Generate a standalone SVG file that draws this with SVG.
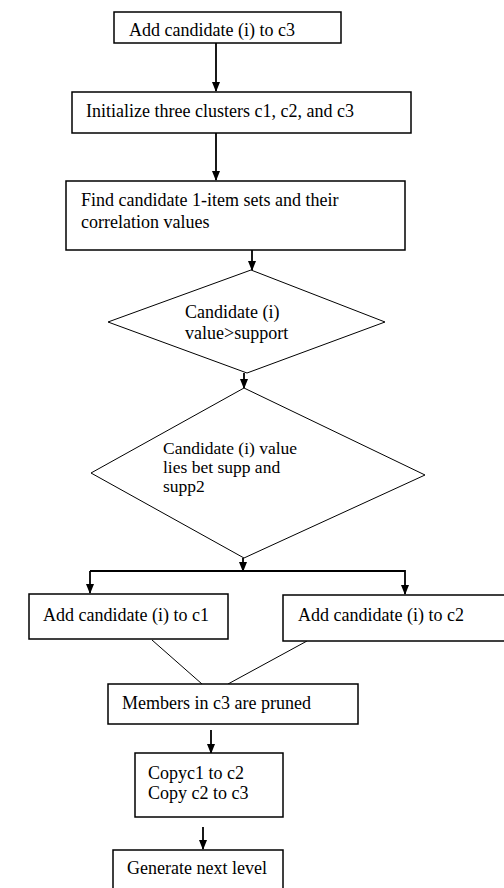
<svg xmlns="http://www.w3.org/2000/svg" width="504" height="888" viewBox="0 0 504 888">
<style>
.box{fill:#fff;stroke:#000;stroke-width:1.5}
.dia{fill:#fff;stroke:#000;stroke-width:1}
.t{font-family:'Liberation Serif','Times New Roman','DejaVu Serif',serif;font-size:18px;fill:#000}
.s{font-size:17.5px}
.c{fill:none;stroke:#000;stroke-width:1.8}
.thin{fill:none;stroke:#000;stroke-width:1}
</style>
<defs>
<marker id="ah" markerWidth="10" markerHeight="10" refX="9" refY="5" orient="auto" markerUnits="userSpaceOnUse">
<path d="M0,1 L10,5 L0,9 Z" fill="#000"/>
</marker>
</defs>
<rect width="504" height="888" fill="#fff"/>
<g id="connectors">
<line class="c" x1="216" y1="43" x2="216" y2="91" marker-end="url(#ah)"/>
<line class="c" x1="216" y1="133" x2="216" y2="180" marker-end="url(#ah)"/>
<line class="c" x1="252" y1="250" x2="252" y2="270" marker-end="url(#ah)"/>
<line class="c" x1="244" y1="373" x2="244" y2="388" marker-end="url(#ah)"/>
<line class="c" x1="243" y1="558" x2="243" y2="571" marker-end="url(#ah)"/>
<polyline class="c" points="90,571 405,571 405,594" marker-end="url(#ah)"/>
<line class="c" x1="90" y1="571" x2="90" y2="593" marker-end="url(#ah)"/>
<line class="thin" x1="152" y1="640" x2="202" y2="684"/>
<line class="thin" x1="307" y1="641" x2="228" y2="684"/>
<line class="c" x1="211" y1="730" x2="211" y2="753" marker-end="url(#ah)"/>
<line class="c" x1="203" y1="827" x2="203" y2="849" marker-end="url(#ah)"/>
</g>
<g id="n1">
<rect class="box" x="114" y="12" width="227" height="31"/>
<text class="t" x="129" y="36">Add candidate (i) to c3</text>
</g>
<g id="n2">
<rect class="box" x="72" y="92" width="339" height="41"/>
<text class="t" x="86" y="117">Initialize three clusters c1, c2, and c3</text>
</g>
<g id="n3">
<rect class="box" x="66" y="181" width="339" height="69"/>
<text class="t" x="81" y="206">Find candidate 1-item sets and their</text>
<text class="t" x="81" y="228">correlation values</text>
</g>
<g id="d1">
<polygon class="dia" points="251,270 385,322 247,373 108,322"/>
<text class="t" x="185" y="318">Candidate (i)</text>
<text class="t" x="185" y="339">value&gt;support</text>
</g>
<g id="d2">
<polygon class="dia" points="244,388 425,475 244,558 91,473"/>
<text class="t s" x="163" y="454">Candidate (i) value</text>
<text class="t s" x="163" y="473">lies bet supp and</text>
<text class="t s" x="163" y="492">supp2</text>
</g>
<g id="n4">
<rect class="box" x="29" y="594" width="199" height="45"/>
<text class="t" x="43" y="621">Add candidate (i) to c1</text>
</g>
<g id="n5">
<rect class="box" x="283" y="595" width="230" height="46"/>
<text class="t" x="298" y="621">Add candidate (i) to c2</text>
</g>
<g id="n6">
<rect class="box" x="108" y="684" width="250" height="40"/>
<text class="t" x="122" y="709">Members in c3 are pruned</text>
</g>
<g id="n7">
<rect class="box" x="135" y="753" width="148" height="64"/>
<text class="t" x="148" y="779">Copyc1 to c2</text>
<text class="t" x="148" y="799">Copy c2 to c3</text>
</g>
<g id="n8">
<rect class="box" x="113" y="850" width="170" height="50"/>
<text class="t" x="127" y="874">Generate next level</text>
</g>
</svg>
